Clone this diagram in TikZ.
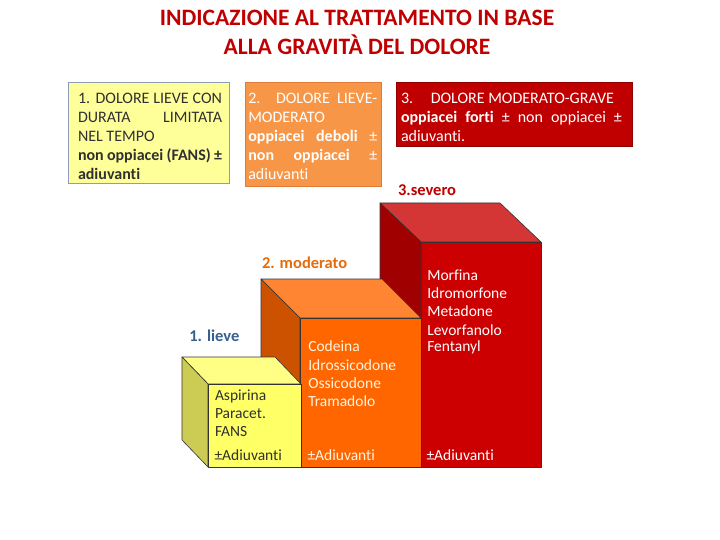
\documentclass[tikz,border=0pt]{standalone}
\usepackage{fontspec}
\setmainfont{Carlito}[Ligatures={NoCommon}]
\definecolor{titlered}{HTML}{C00000}
\definecolor{ybox}{HTML}{FFFF99}
\definecolor{yboxborder}{HTML}{8C9DB5}
\definecolor{obox}{HTML}{F79646}
\definecolor{oboxborder}{HTML}{E07B39}
\definecolor{rbox}{HTML}{C00000}
\definecolor{rboxborder}{HTML}{8C0000}
\definecolor{ytext}{HTML}{303030}
\definecolor{rfront}{HTML}{CC0000}
\definecolor{rtop}{HTML}{D43535}
\definecolor{rside}{HTML}{A00000}
\definecolor{ofront}{HTML}{FF6600}
\definecolor{otop}{HTML}{FF8533}
\definecolor{oside}{HTML}{CC5200}
\definecolor{yfront}{HTML}{FFFF66}
\definecolor{ytop}{HTML}{FFFF85}
\definecolor{yside}{HTML}{CCCC55}
\definecolor{cubeedge}{HTML}{333333}
\definecolor{lblorange}{HTML}{E46C0A}
\definecolor{lblblue}{HTML}{376092}
\definecolor{cream}{HTML}{FFF4E0}
\begin{document}
\begin{tikzpicture}[x=1pt,y=-1pt,
  every node/.style={inner sep=0pt, outer sep=0pt},
  boxline/.style={anchor=base west, font=\fontsize{16}{19}\selectfont},
  cubeline/.style={anchor=base west, font=\fontsize{15.5}{18}\selectfont},
  lbl/.style={anchor=base west, font=\fontsize{16.5}{20}\selectfont\bfseries},
  titleline/.style={anchor=base, font=\fontsize{23.5}{28}\selectfont\bfseries, text=titlered},
  cubeface/.style={draw=cubeedge, line width=0.6pt, line join=round}
]
\useasboundingbox (0,0) rectangle (720,540);
\fill[white] (0,0) rectangle (720,540);

% title
\node[titleline] (t1) at (357,25.7) {INDICAZIONE AL TRATTAMENTO IN BASE};
\node[titleline] (t2) at (357,55) {ALLA GRAVITÀ DEL DOLORE};

% boxes
\draw[fill=ybox, draw=yboxborder, line width=0.8pt] (68.5,82.5) rectangle (229.5,183.5);
\draw[fill=obox, draw=oboxborder, line width=0.8pt] (245,82.5) rectangle (381.7,186);
\draw[fill=rbox, draw=rboxborder, line width=0.8pt] (396.7,82.5) rectangle (632.7,146.7);

% yellow box text
\node[boxline, text=ytext] (ya) at (78,104) {\makebox[144pt][s]{1. DOLORE LIEVE CON}};
\node[boxline, text=ytext] (yb) at (78,122.8) {\makebox[144pt][s]{DURATA LIMITATA}};
\node[boxline, text=ytext] (yc) at (78,141.6) {NEL TEMPO};
\node[boxline, text=ytext] (yd) at (78,160.4) {\makebox[144pt][s]{\bfseries non oppiacei (FANS) ±}};
\node[boxline, text=ytext] (ye) at (78,179.2) {\bfseries adiuvanti};

% orange box text
\node[boxline, text=white] (oa) at (248.3,104) {\makebox[129pt][s]{2. DOLORE LIEVE-}};
\node[boxline, text=white] (ob) at (248.3,122.8) {MODERATO};
\node[boxline, text=white] (oc) at (248.3,141.6) {\makebox[129pt][s]{\textbf{oppiacei deboli} ±}};
\node[boxline, text=white] (od) at (248.3,160.4) {\makebox[129pt][s]{\textbf{non oppiacei} ±}};
\node[boxline, text=white] (oe) at (248.3,179.2) {adiuvanti};

% red box text
\node[boxline, text=white] (ra) at (401,104) {\makebox[213pt][s]{3.\ \hfill DOLORE MODERATO-GRAVE}};
\node[boxline, text=white] (rb) at (401,122.8) {\makebox[221pt][s]{\textbf{oppiacei forti} ± non oppiacei ±}};
\node[boxline, text=white] (rc) at (401,141.6) {adiuvanti.};

% red cube
\path[cubeface, fill=rtop] (421,242) -- (541,242) -- (500,203) -- (380,203) -- cycle;
\path[cubeface, fill=rside] (380,203) -- (421,242) -- (421,467) -- (380,428) -- cycle;
\path[cubeface, fill=rfront] (421,242) rectangle (541,467);

% orange cube
\path[cubeface, fill=otop] (300,318) -- (421,318) -- (382,279) -- (261,279) -- cycle;
\path[cubeface, fill=oside] (261,279) -- (300,318) -- (300,467) -- (261,428) -- cycle;
\path[cubeface, fill=ofront] (300,318) rectangle (421,467);

% yellow cube
\path[cubeface, fill=ytop] (208,384) -- (301,384) -- (275,357) -- (182,357) -- cycle;
\path[cubeface, fill=yside] (182,357) -- (208,384) -- (208,467) -- (182,440) -- cycle;
\path[cubeface, fill=yfront] (208,384) rectangle (301,467);

% labels
\node[lbl, text=titlered] (l3) at (398,195.7) {3.severo};
\node[lbl, text=lblorange] (l2) at (262,268.3) {2. moderato};
\node[lbl, text=lblblue] (l1) at (189.3,341.7) {1. lieve};

% red cube text
\node[cubeline, text=white] (r1) at (427.3,280) {Morfina};
\node[cubeline, text=white] (r2) at (427.3,298.3) {Idromorfone};
\node[cubeline, text=white] (r3) at (427.3,316.7) {Metadone};
\node[cubeline, text=white] (r4) at (427.3,335) {Levorfanolo};
\node[cubeline, text=white] (r5) at (427.3,351.7) {Fentanyl};
\node[cubeline, text=white] (r6) at (426.5,460.7) {±Adiuvanti};

% orange cube text
\node[cubeline, text=cream] (o1) at (308.3,351.7) {Codeina};
\node[cubeline, text=cream] (o2) at (308.3,370) {Idrossicodone};
\node[cubeline, text=cream] (o3) at (308.3,388.3) {Ossicodone};
\node[cubeline, text=cream] (o4) at (308.3,406) {Tramadolo};
\node[cubeline, text=cream] (o5) at (307.5,460) {±Adiuvanti};

% yellow cube text
\node[cubeline, text=ytext] (c1) at (215,400) {Aspirina};
\node[cubeline, text=ytext] (c2) at (215,418.3) {Paracet.};
\node[cubeline, text=ytext] (c3) at (215,436) {FANS};
\node[cubeline, text=ytext] (c4) at (214.5,460) {±Adiuvanti};
\end{tikzpicture}
\end{document}
